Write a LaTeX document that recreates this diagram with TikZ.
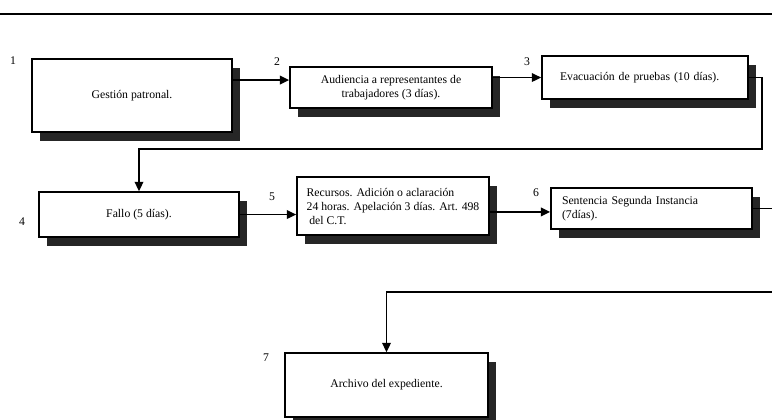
\documentclass[tikz,border=0pt]{standalone}
\usepackage{fontspec}
\setmainfont{Liberation Serif}
\usetikzlibrary{shadows,arrows.meta}
\begin{document}
\begin{tikzpicture}[x=0.75pt,y=-0.75pt,
  box/.style={draw, line width=1.3pt, fill=white,
    drop shadow={shadow xshift=6pt, shadow yshift=-7pt, fill=black!85, opacity=1},
    font=\fontsize{8.8}{10.5}\selectfont, inner sep=2pt},
  num/.style={font=\fontsize{8.8}{10.5}\selectfont, inner sep=0pt},
  arr/.style={line width=1.3pt, -{Triangle[length=7pt,width=6.5pt]}}
]
\useasboundingbox (0,0) rectangle (772,419);
\clip (0,0) rectangle (772,419);
\fill[white] (0,0) rectangle (772,419);

% top rule
\coordinate (tl) at (0,14);
\coordinate (tr) at (772,14);
\draw[line width=1.5pt] (tl) -- (tr);

% boxes
\node[box, minimum width=150pt, minimum height=54.75pt] (b1) at (132,95.5) {Gestión patronal.};
\node[box, minimum width=151.5pt, minimum height=30.75pt, align=center] (b2) at (391,87.5)
  {Audiencia a representantes de\\trabajadores (3 días).};
\node[box, minimum height=32.25pt, text width=127.5pt, inner xsep=13.5pt, align=left] (b3) at (645,77.5)
  {Evacuación de pruebas (10 días).};
\node[box, minimum width=150pt, minimum height=33.75pt] (b4) at (139,214.5) {Fallo (5 días).};
\node[box, minimum width=144pt, minimum height=43.5pt, align=left] (b5) at (393,206)
  {Recursos. Adición o aclaración\\24 horas. Apelación 3 días. Art. 498\\\hspace*{2pt}del C.T.};
\node[box, minimum height=30.75pt, text width=134.25pt, inner xsep=8.25pt, align=left] (b6) at (651.5,208.5)
  {Sentencia Segunda Instancia\\(7días).};
\node[box, minimum width=152.25pt, minimum height=48pt] (b7) at (386.5,385) {Archivo del expediente.};

% step numbers
\node[num] (n1) at (13,61) {1};
\node[num] (n2) at (277,62) {2};
\node[num] (n3) at (527,62) {3};
\node[num] (n4) at (22,222) {4};
\node[num] (n5) at (272,197) {5};
\node[num] (n6) at (536,193) {6};
\node[num] (n7) at (266,358) {7};

% connectors
\draw[arr] ([yshift=5.6pt]b2.west -| b1.east) -- ([yshift=5.6pt]b2.west);
\draw[arr] (b3.west -| b2.east) -- (b3.west);
\coordinate (c1) at (762,149);
\draw[arr] (b3.east) -| (c1) -| (b4.north);
\draw[arr] (b4.east) -- (b4.east -| b5.west);
\draw[arr] ([yshift=-2.6pt]b6.west -| b5.east) -- ([yshift=-2.6pt]b6.west);
\coordinate (c2) at (800,292);
\draw[arr] (b6.east) -| (c2) -| (b7.north);
\end{tikzpicture}
\end{document}
